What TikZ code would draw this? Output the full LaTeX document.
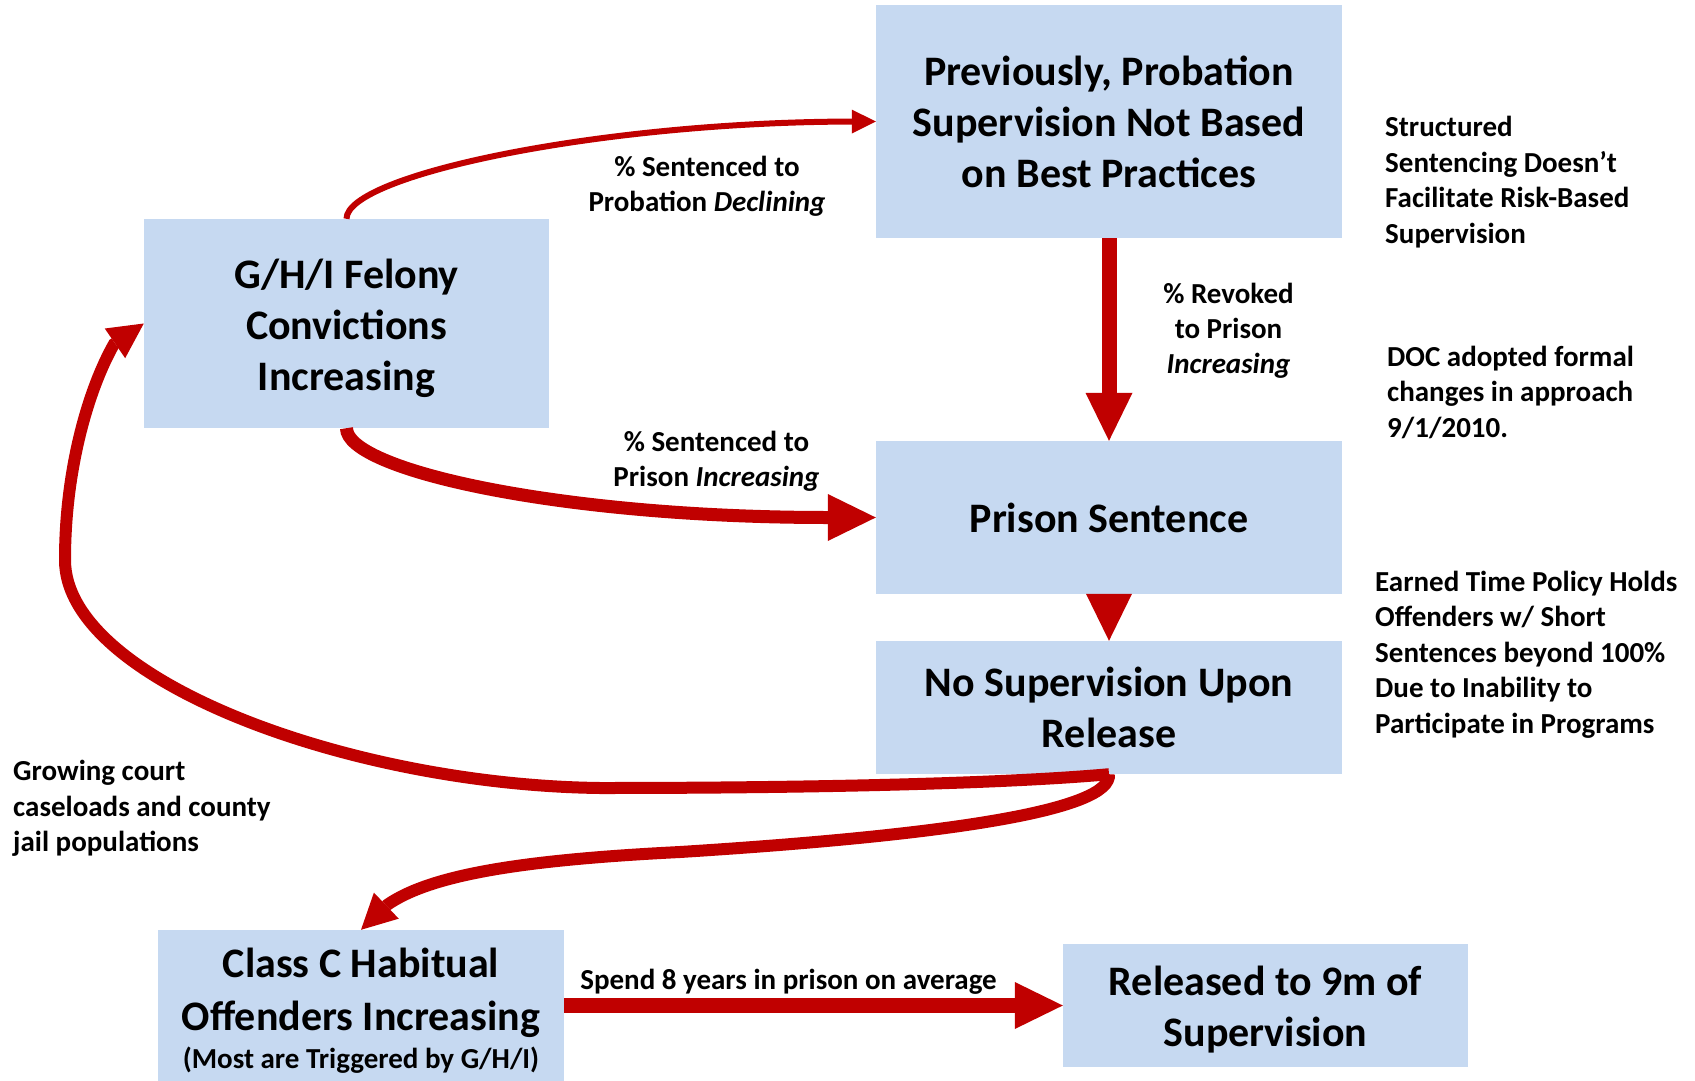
\documentclass[tikz,border=0pt]{standalone}
\usepackage{fontspec}
\setmainfont{Carlito}
\usetikzlibrary{arrows.meta,calc}
\definecolor{boxblue}{HTML}{C6D9F1}
\definecolor{arrred}{HTML}{C00000}
\begin{document}
\begin{tikzpicture}[x=1pt,y=-1pt,
  box/.style={fill=boxblue, inner sep=0pt, align=center, font=\bfseries\fontsize{42}{51}\selectfont},
  lbl/.style={inner sep=0pt, align=center, font=\bfseries\fontsize{29}{35}\selectfont},
  note/.style={inner sep=0pt, align=left, anchor=west, font=\bfseries\fontsize{29}{35.5}\selectfont},
  thinarrow/.style={draw=arrred, line width=6pt, -{Triangle[length=24pt,width=24pt,line width=0pt]}},
  looparrow/.style={draw=arrred, line width=12pt, -{Triangle[length=35pt,width=36pt,line width=0pt]}},
  bigarrow/.style={draw=arrred, line width=14pt, -{Triangle[length=48pt,width=47pt,line width=0pt]}}
]
\useasboundingbox (0,0) rectangle (1695,1081);
\clip (0,0) rectangle (1695,1081);

% boxes
\node[box, minimum width=405pt, minimum height=209pt] (g) at (346.5,323.5) {\rule{0pt}{40pt}G/H/I Felony\\Convictions\\Increasing};
\node[box, minimum width=466pt, minimum height=233pt] (prev) at (1109,121.5) {Previously, Probation\\Supervision Not Based\\on Best Practices};
\node[box, minimum width=466pt, minimum height=153pt] (ps) at (1109,517.5) {Prison Sentence};
\node[box, minimum width=466pt, minimum height=133pt] (ns) at (1109,707.5) {No Supervision Upon\\Release};
\node[box, minimum width=406pt, minimum height=162pt] (cc) at (361,1011) {Class C Habitual\\[2pt]Offenders Increasing\\[-13pt]{\fontsize{29}{35}\selectfont(Most are Triggered by G/H/I)}};
\node[box, minimum width=405pt, minimum height=123pt] (rel) at (1265.5,1005.5) {\rule{0pt}{37pt}Released to 9m of\\Supervision};

% connector labels
\node[lbl] (l1) at (707,186) {\% Sentenced to\\Probation \textit{Declining}};
\node[lbl] (l2) at (716.5,461) {\% Sentenced to\\Prison \textit{Increasing}};
\node[lbl] (l3) at (1228.5,331) {\% Revoked\\to Prison\\\textit{Increasing}};
\node[lbl] (l4) at (788.5,982) {Spend 8 years in prison on average};

% side notes
\node[note] (n1) at (1385,182) {Structured\\Sentencing Doesn’t\\Facilitate Risk-Based\\Supervision};
\node[note] (n2) at (1387,392) {DOC adopted formal\\changes in approach\\9/1/2010.};
\node[note] (n3) at (1375,654.5) {Earned Time Policy Holds\\Offenders w/ Short\\Sentences beyond 100\%\\Due to Inability to\\Participate in Programs};
\node[note] (n4) at (13,808.5) {Growing court\\caseloads and county\\jail populations};

% connectors
\draw[thinarrow] (g.north) .. controls (346.5,175) and (600,122) .. (prev.west);
\draw[bigarrow, line width=13pt] (g.south) .. controls (346.5,470) and (560,517.5) .. (ps.west);
\draw[bigarrow, line width=15pt] (prev.south) -- (ps.north);
\draw[bigarrow, line width=15pt, -{Triangle[length=47pt,width=46pt,line width=0pt]}] (ps.south) -- (ns.north);
\draw[looparrow] (ns.south) .. controls (1000,784) and (800,788) .. (600,788)
   .. controls (350,785) and (65,680) .. (65,560)
   .. controls (65,470) and (88,390) .. (114,344) -- (g.west);
\draw[looparrow] (ns.south) .. controls (1112,810) and (950,835) .. (680,852)
   .. controls (520,860) and (430,875) .. (387,905) -- (cc.north);
\draw[bigarrow, line width=15pt] (cc.east |- rel.west) -- (rel.west);
\end{tikzpicture}
\end{document}
